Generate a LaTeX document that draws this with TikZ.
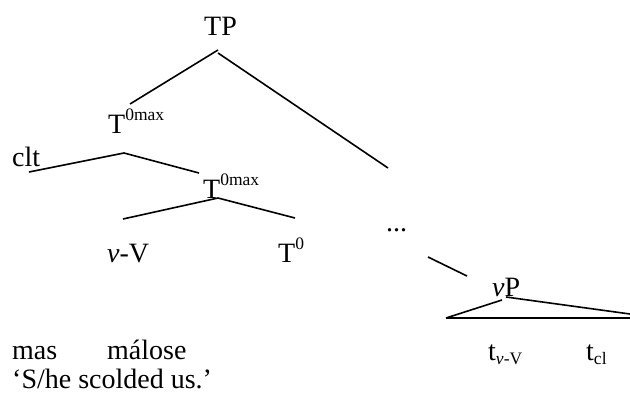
\documentclass[tikz,border=0pt]{standalone}
\usepackage{fontspec}
\setmainfont{Liberation Serif}
\newcommand\mysup[1]{\raisebox{12.5pt}{\fontsize{17.5}{18}\selectfont #1}}
\newcommand\mysub[1]{\raisebox{-4pt}{\fontsize{17.5}{18}\selectfont #1}}
\begin{document}
\begin{tikzpicture}[x=1pt,y=-1pt,
  lbl/.style={anchor=base west, inner sep=0pt, font=\fontsize{28}{30}\selectfont},
  edge/.style={line width=1.6pt}]
\useasboundingbox (0,0) rectangle (630,394);
% labels
\node[lbl] (TP) at (204,35) {TP};
\node[lbl] (T1) at (108,133) {T\mysup{0max}};
\node[lbl] (clt) at (12,166) {clt};
\node[lbl] (T2) at (203,198) {T\mysup{0max}};
\node[lbl] (vV) at (107,262) {\textit{v}-V};
\node[lbl] (T0) at (278,262) {T\mysup{0}};
\node[lbl] (dots) at (386,231) {...};
\node[lbl] (vP) at (492,296) {\textit{v}P};
\node[lbl] (tvV) at (488,360) {t\mysub{\textit{v}-V}};
\node[lbl] (tcl) at (586,360) {t\mysub{cl}};
\node[lbl] (mas) at (12,359) {mas};
\node[lbl] (malose) at (107,359) {málose};
\node[lbl] (gloss) at (12,388) {‘S/he scolded us.’};
% connector end points
\coordinate (tpL) at (218,50);
\coordinate (tpR) at (218,53);
\coordinate (t1top) at (130,104);
\coordinate (dotsTop) at (388,168);
\coordinate (cltE) at (29,172);
\coordinate (t1bot) at (124,153);
\coordinate (t2top) at (199,173);
\coordinate (vVtop) at (123,219);
\coordinate (t2bot) at (218,198);
\coordinate (T0top) at (295,218);
\coordinate (dotsBot) at (428,257);
\coordinate (vPtop) at (467,276);
\coordinate (triL) at (446,318);
\coordinate (vPbl) at (502,300);
\coordinate (vPbr) at (506,297);
\coordinate (triR) at (630,314);
\coordinate (baseR) at (630,318);
% connectors
\draw[edge] (tpL) -- (t1top);
\draw[edge] (tpR) -- (dotsTop);
\draw[edge] (cltE) -- (t1bot) -- (t2top);
\draw[edge] (vVtop) -- (t2bot) -- (T0top);
\draw[edge] (dotsBot) -- (vPtop);
\draw[edge] (triL) -- (vPbl);
\draw[edge] (vPbr) -- (triR);
\draw[edge] (triL) -- (baseR);
\end{tikzpicture}
\end{document}
